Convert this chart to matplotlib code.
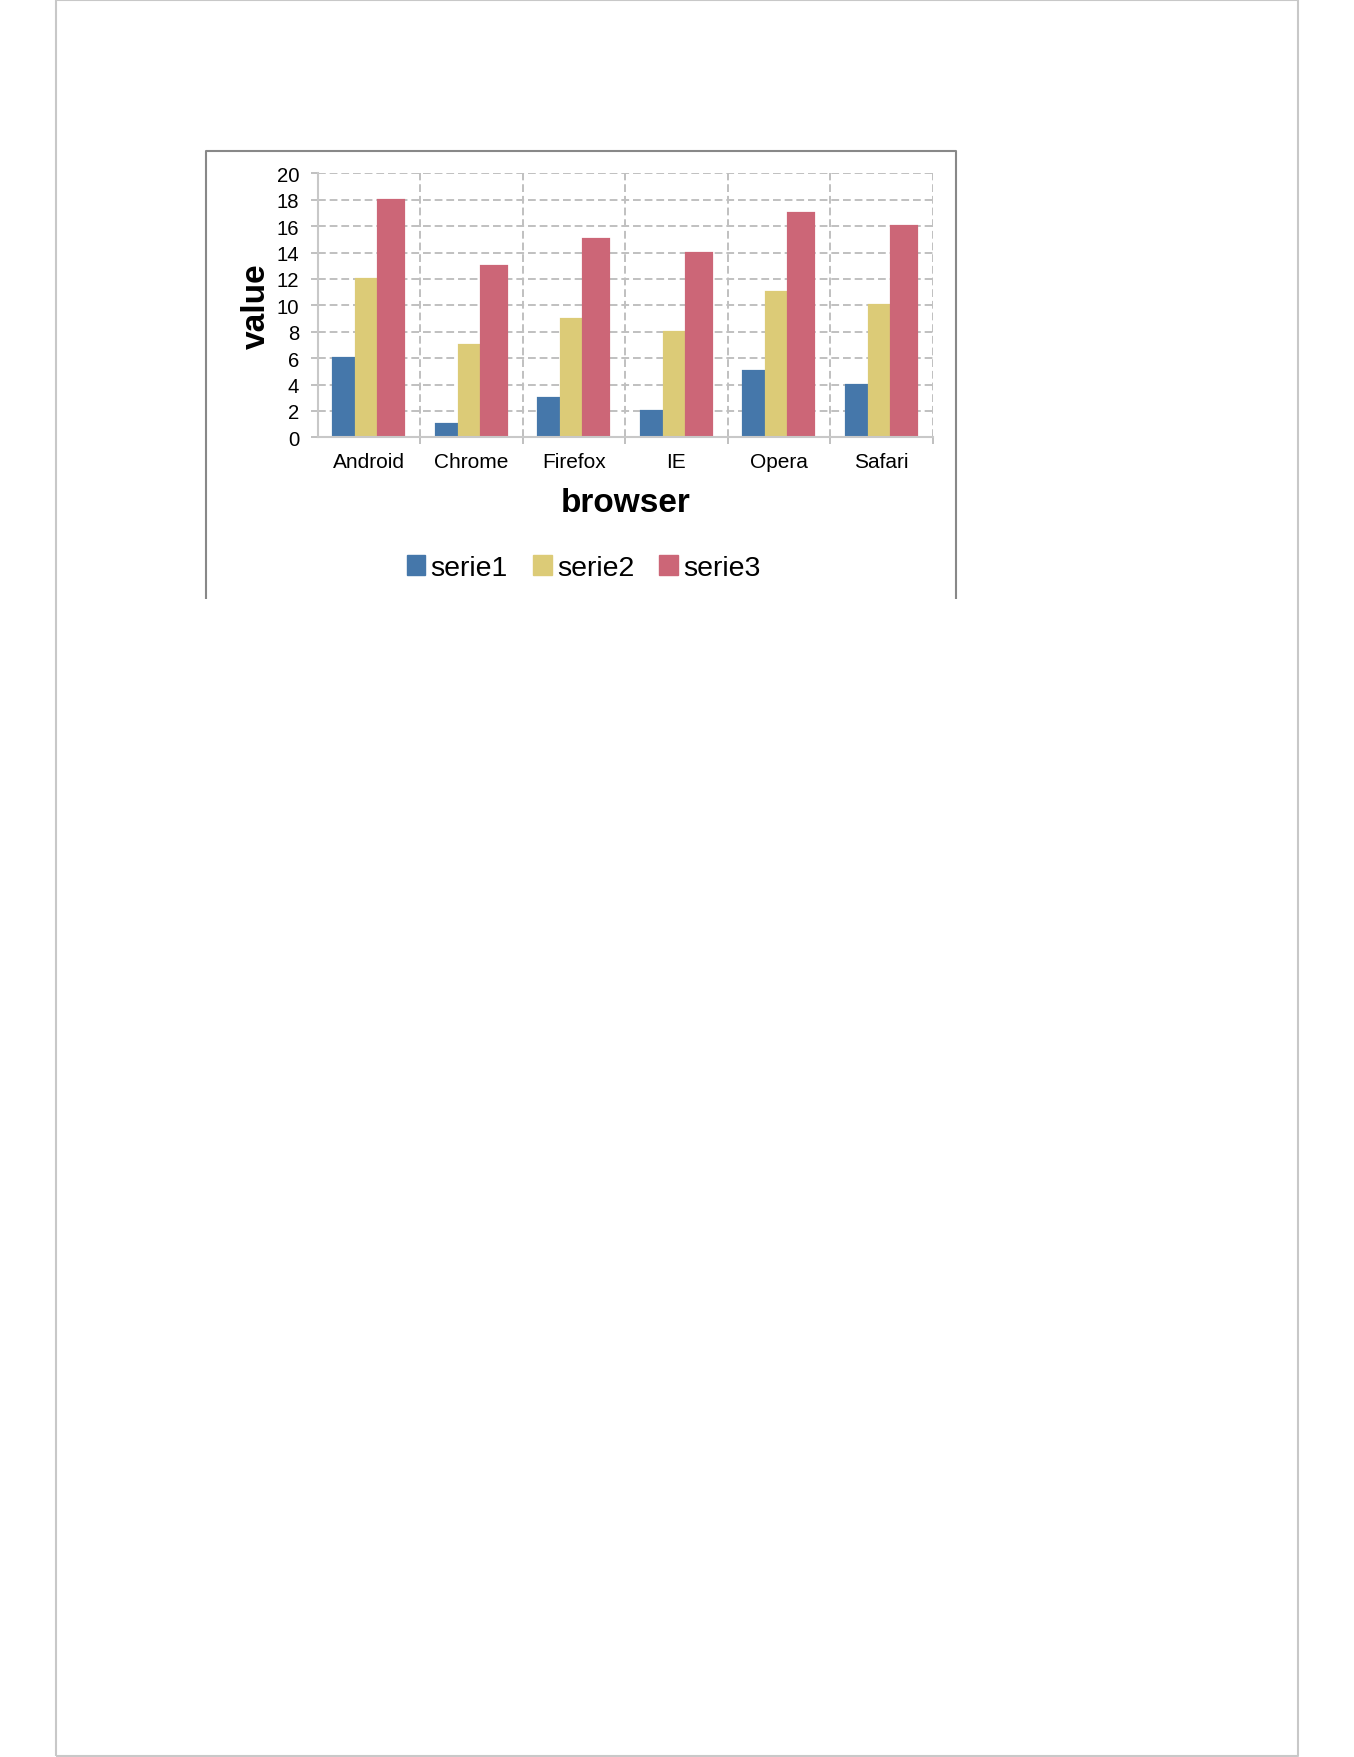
import matplotlib
matplotlib.use("Agg")
from matplotlib import pyplot as plt
from matplotlib.lines import Line2D
from matplotlib.patches import Patch
from matplotlib.ticker import FixedLocator

browsers = ["Android", "Chrome", "Firefox", "IE", "Opera", "Safari"]
serie1 = [6, 1, 3, 2, 5, 4]
serie2 = [12, 7, 9, 8, 11, 10]
serie3 = [18, 13, 15, 14, 17, 16]
series_names = ["serie1", "serie2", "serie3"]
y_ticks = [0, 2, 4, 6, 8, 10, 12, 14, 16, 18, 20]

W, H = 1354, 1758
DPI = 100

plt.rcParams["font.family"] = ["Liberation Sans", "DejaVu Sans"]

fig = plt.figure(figsize=(W / DPI, H / DPI), dpi=DPI)


def fx(px):
    return px / W


def fy(py):
    return 1.0 - py / H


def fig_line(xs, ys, color, lw):
    fig.add_artist(Line2D([fx(x) for x in xs], [fy(y) for y in ys],
                          transform=fig.transFigure, color=color, lw=lw,
                          solid_capstyle="butt"))


# page border and chart frame (open at the bottom)
fig_line([56, 56, 1298, 1298, 56], [1757, 1, 1, 1757, 1757], "#c8c8c8", 1.5)
fig_line([205.5, 205.5, 956, 956], [600, 151.5, 151.5, 600], "#888888", 1.5)

# plot area
left, right, top, bottom = 317.7, 932.7, 174.3, 438.3
ax = fig.add_axes([fx(left), fy(bottom), (right - left) / W, (bottom - top) / H])
ax.set_axisbelow(True)

colors = ["#4577aa", "#dccb77", "#cc6677"]
# bar edges inside each category (category units), red bar a bit wider
edges = [-0.351, -0.127, 0.088, 0.351]
for i, vals in enumerate([serie1, serie2, serie3]):
    xs = [k + edges[i] + 0.005 for k in range(len(browsers))]
    ax.bar(xs, vals, width=edges[i + 1] - edges[i] - 0.01, align="edge",
           color=colors[i], edgecolor=colors[i], linewidth=1.6, zorder=3)

ax.set_xlim(-0.5, len(browsers) - 0.5)
ax.set_ylim(0, 20)

grid_col = "#c0c0c0"
ax.set_yticks(y_ticks)
ax.set_xticks(range(len(browsers)))
ax.set_xticklabels(browsers)
ax.xaxis.set_minor_locator(FixedLocator([k + 0.5 for k in range(len(browsers))]))

ax.tick_params(axis="x", which="major", length=0, pad=10.6, labelsize=15)
ax.tick_params(axis="x", which="minor", length=5, width=1.4, color=grid_col)
ax.tick_params(axis="y", length=5, width=1.4, color=grid_col, pad=8.4,
               labelsize=14.6)

ax.grid(axis="y", which="major", color=grid_col, lw=1.4, ls=(0, (4, 2)))
ax.grid(axis="x", which="minor", color=grid_col, lw=1.4, ls=(0, (4, 2)))
ax.grid(axis="x", which="major", visible=False)

for side in ["top", "right"]:
    ax.spines[side].set_visible(False)
for side in ["left", "bottom"]:
    ax.spines[side].set_color("#c8c8c8")
    ax.spines[side].set_linewidth(1.5)
    ax.spines[side].set_zorder(4)

ax.set_xlabel("browser", fontsize=24, fontweight="bold", va="baseline")
ax.xaxis.set_label_coords(0.5, -0.278)
ax.set_ylabel("value", fontsize=24, fontweight="bold", va="baseline")
ax.yaxis.set_label_coords(-0.0857, 0.5)

handles = [Patch(color=c, label=n) for c, n in zip(colors, series_names)]
fig.legend(handles=handles, loc="center", ncol=3, frameon=False,
           bbox_to_anchor=(fx(583.5), fy(569)), fontsize=20.5,
           handlelength=0.66, handleheight=0.66, handletextpad=0.18,
           columnspacing=0.88, borderpad=0)

fig.savefig("out.png", dpi=DPI)
